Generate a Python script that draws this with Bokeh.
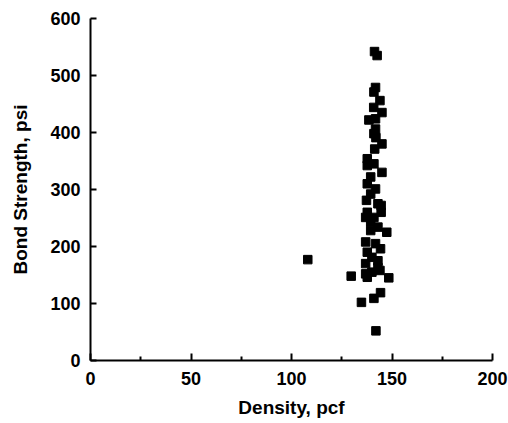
from bokeh.plotting import figure
from bokeh.models import FixedTicker, Range1d
from bokeh.embed import file_html
from bokeh.resources import INLINE

density = [141.3, 142.6, 108.1, 129.7, 148.4, 144.3, 141.0, 134.8, 142.0,
           141.8, 141.0, 144.0, 140.9, 145.0, 138.5, 141.8, 141.8, 141.0,
           142.0, 145.0, 141.4, 137.7, 137.7, 141.0, 145.0, 139.4, 137.7,
           141.8, 139.4, 137.3, 143.0, 144.6, 144.6, 137.7, 136.9, 141.0,
           139.4, 143.0, 147.4, 139.4, 136.9, 141.8, 144.3, 137.7, 140.0,
           143.0, 136.9, 143.0, 136.9, 140.0, 144.0, 137.7]
bond = [542, 535, 177, 148, 145, 119, 109, 102, 52,
        479, 471, 456, 444, 435, 422, 424, 406, 398,
        391, 380, 371, 354, 342, 345, 330, 322, 310,
        301, 292, 281, 275, 272, 260, 260, 251, 251,
        243, 234, 225, 228, 208, 205, 196, 190, 181,
        175, 170, 163, 152, 155, 158, 146]

x_ticks = [0, 50, 100, 150, 200]
x_minor = [25, 75, 125, 175]
y_ticks = [0, 100, 200, 300, 400, 500, 600]

FONT = "Liberation Sans"

p = figure(width=508, height=420, output_backend="svg", toolbar_location=None,
           x_range=Range1d(0, 200), y_range=Range1d(0, 600),
           min_border_left=90, min_border_right=16, min_border_top=18,
           min_border_bottom=60)
p.outline_line_color = None
p.grid.visible = False

p.scatter(density, bond, marker="square", size=8.5, color="black")

for ax in (p.xaxis[0], p.yaxis[0]):
    ax.axis_line_width = 2
    ax.major_tick_line_width = 2
    ax.minor_tick_line_width = 2
    ax.major_tick_out = 0
    ax.minor_tick_out = 0
    ax.major_label_text_font = FONT
    ax.major_label_text_font_size = "18px"
    ax.major_label_text_font_style = "bold"
    ax.major_label_text_color = "black"
    ax.axis_label_text_font = FONT
    ax.axis_label_text_font_size = "19px"
    ax.axis_label_text_font_style = "bold"
    ax.axis_label_text_color = "black"

p.xaxis.ticker = FixedTicker(ticks=x_ticks, minor_ticks=x_minor)
p.xaxis.major_tick_in = 7
p.xaxis.minor_tick_in = 4
p.xaxis.major_label_standoff = 11
p.xaxis.axis_label = "Density, pcf"
p.xaxis.axis_label_standoff = 9

p.yaxis.ticker = FixedTicker(ticks=y_ticks)
p.yaxis.major_tick_in = 6
p.yaxis.minor_tick_in = 0
p.yaxis.major_label_standoff = 10
p.yaxis.axis_label = "Bond Strength, psi"
p.yaxis.axis_label_standoff = 16

open("out.html", "w").write(file_html(p, INLINE))
